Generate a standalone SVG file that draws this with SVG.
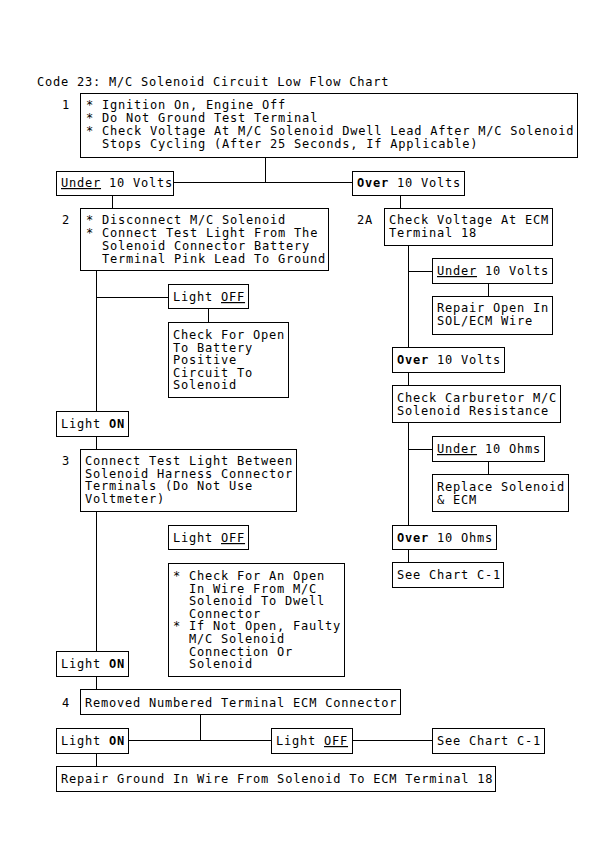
<svg xmlns="http://www.w3.org/2000/svg" width="615" height="868" viewBox="0 0 615 868">
<style>
text{font-family:"DejaVu Sans Mono","Liberation Mono",monospace;font-size:12px;letter-spacing:0.78px;fill:#000}
.b{fill:#fff;stroke:#000;stroke-width:1}
.u{text-decoration:underline}
.bo{font-weight:bold}
#connectors path{stroke:#000;stroke-width:1;fill:none}
</style>
<rect width="615" height="868" fill="#fff"/>
<text x="37" y="86">Code 23: M/C Solenoid Circuit Low Flow Chart</text>
<g id="labels">
<text x="62" y="109">1</text>
<text x="62" y="224">2</text>
<text x="357" y="224">2A</text>
<text x="62" y="465">3</text>
<text x="62" y="707">4</text>
</g>
<g id="connectors">
<path d="M265.5 157.5V182.5M173.5 182.5H352.5M112.5 195.5V208.5M96.5 270.5V411.5M96.5 297.5H168.5M208.5 308.5V322.5M96.5 436.5V449.5M96.5 511.5V651.5M96.5 676.5V689.5M200.5 714.5V740.5M128.5 740.5H271.5M352.5 740.5H432.5M96.5 753.5V766.5M400.5 195.5V208.5M408.5 245.5V347.5M408.5 271.5H432.5M488.5 283.5V296.5M408.5 372.5V385.5M408.5 422.5V525.5M408.5 449.5H432.5M488.5 461.5V474.5M408.5 549.5V562.5"/>
</g>
<g id="n1"><rect class="b" x="80.5" y="93.5" width="497" height="64"/>
<text x="86" y="109">* Ignition On, Engine Off</text>
<text x="86" y="122">* Do Not Ground Test Terminal</text>
<text x="86" y="135">* Check Voltage At M/C Solenoid Dwell Lead After M/C Solenoid</text>
<text x="102" y="148">Stops Cycling (After 25 Seconds, If Applicable)</text></g>
<g id="under1"><rect class="b" x="56.5" y="171.5" width="117" height="24"/>
<text x="61" y="187"><tspan class="u">Under</tspan> 10 Volts</text></g>
<g id="over1"><rect class="b" x="352.5" y="171.5" width="112" height="24"/>
<text x="357" y="187"><tspan class="bo">Over</tspan> 10 Volts</text></g>
<g id="n2"><rect class="b" x="80.5" y="208.5" width="248" height="62"/>
<text x="86" y="224">* Disconnect M/C Solenoid</text>
<text x="86" y="237">* Connect Test Light From The</text>
<text x="102" y="250">Solenoid Connector Battery</text>
<text x="102" y="263">Terminal Pink Lead To Ground</text></g>
<g id="off1"><rect class="b" x="168.5" y="284.5" width="80" height="24"/>
<text x="173" y="301">Light <tspan class="u">OFF</tspan></text></g>
<g id="check1"><rect class="b" x="168.5" y="322.5" width="120" height="75"/>
<text x="173" y="339">Check For Open</text>
<text x="173" y="351.6">To Battery</text>
<text x="173" y="364.2">Positive</text>
<text x="173" y="376.8">Circuit To</text>
<text x="173" y="389.4">Solenoid</text></g>
<g id="on1"><rect class="b" x="56.5" y="411.5" width="72" height="25"/>
<text x="61" y="428">Light <tspan class="bo">ON</tspan></text></g>
<g id="n3"><rect class="b" x="80.5" y="449.5" width="216" height="62"/>
<text x="85" y="465">Connect Test Light Between</text>
<text x="85" y="477.6">Solenoid Harness Connector</text>
<text x="85" y="490.2">Terminals (Do Not Use</text>
<text x="85" y="502.8">Voltmeter)</text></g>
<g id="off2"><rect class="b" x="168.5" y="525.5" width="80" height="24"/>
<text x="173" y="542">Light <tspan class="u">OFF</tspan></text></g>
<g id="check2"><rect class="b" x="168.5" y="563.5" width="176" height="113"/>
<text x="173" y="580">* Check For An Open</text>
<text x="189" y="592.6">In Wire From M/C</text>
<text x="189" y="605.2">Solenoid To Dwell</text>
<text x="189" y="617.8">Connector</text>
<text x="173" y="630.4">* If Not Open, Faulty</text>
<text x="189" y="643">M/C Solenoid</text>
<text x="189" y="655.6">Connection Or</text>
<text x="189" y="668.2">Solenoid</text></g>
<g id="on2"><rect class="b" x="56.5" y="651.5" width="72" height="25"/>
<text x="61" y="668">Light <tspan class="bo">ON</tspan></text></g>
<g id="n4"><rect class="b" x="80.5" y="689.5" width="320" height="25"/>
<text x="85" y="707">Removed Numbered Terminal ECM Connector</text></g>
<g id="on3"><rect class="b" x="56.5" y="728.5" width="72" height="25"/>
<text x="61" y="745">Light <tspan class="bo">ON</tspan></text></g>
<g id="off3"><rect class="b" x="271.5" y="728.5" width="81" height="25"/>
<text x="276" y="745">Light <tspan class="u">OFF</tspan></text></g>
<g id="see3"><rect class="b" x="432.5" y="728.5" width="112" height="25"/>
<text x="437" y="745">See Chart C-1</text></g>
<g id="repairGround"><rect class="b" x="56.5" y="766.5" width="439" height="25"/>
<text x="61" y="783">Repair Ground In Wire From Solenoid To ECM Terminal 18</text></g>
<g id="n2A"><rect class="b" x="384.5" y="208.5" width="168" height="37"/>
<text x="389" y="224">Check Voltage At ECM</text>
<text x="389" y="237">Terminal 18</text></g>
<g id="under2"><rect class="b" x="432.5" y="258.5" width="120" height="25"/>
<text x="437" y="275"><tspan class="u">Under</tspan> 10 Volts</text></g>
<g id="repairOpen"><rect class="b" x="432.5" y="296.5" width="120" height="38"/>
<text x="437" y="312">Repair Open In</text>
<text x="437" y="325">SOL/ECM Wire</text></g>
<g id="over2"><rect class="b" x="392.5" y="347.5" width="112" height="25"/>
<text x="397" y="364"><tspan class="bo">Over</tspan> 10 Volts</text></g>
<g id="carb"><rect class="b" x="392.5" y="385.5" width="168" height="37"/>
<text x="397" y="402">Check Carburetor M/C</text>
<text x="397" y="415">Solenoid Resistance</text></g>
<g id="under3"><rect class="b" x="432.5" y="436.5" width="112" height="25"/>
<text x="437" y="453"><tspan class="u">Under</tspan> 10 Ohms</text></g>
<g id="replace"><rect class="b" x="432.5" y="474.5" width="136" height="37"/>
<text x="437" y="491">Replace Solenoid</text>
<text x="437" y="504">&amp; ECM</text></g>
<g id="over3"><rect class="b" x="392.5" y="525.5" width="104" height="24"/>
<text x="397" y="542"><tspan class="bo">Over</tspan> 10 Ohms</text></g>
<g id="see2"><rect class="b" x="392.5" y="562.5" width="111" height="25"/>
<text x="397" y="579">See Chart C-1</text></g>
</svg>
